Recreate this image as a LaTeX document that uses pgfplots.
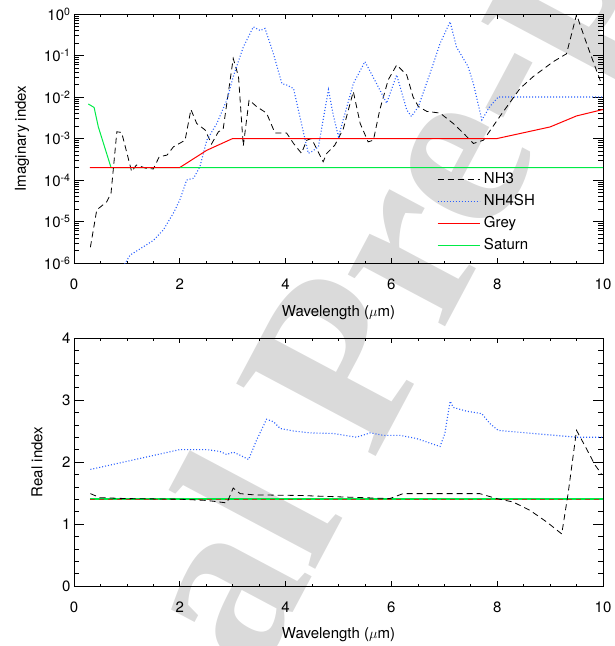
\documentclass[border=0pt]{standalone}
\usepackage{fontspec}
\setmainfont{TeX Gyre Heros}
\newfontfamily\wmfont{Liberation Serif}
\usepackage{pgfplots}
\pgfplotsset{compat=1.18}
\definecolor{nhblue}{RGB}{40,95,255}
\definecolor{satgreen}{RGB}{0,235,70}
\definecolor{greyred}{RGB}{255,0,0}
\definecolor{brown2}{RGB}{170,70,35}
\definecolor{wmgray}{RGB}{218,218,218}
\pgfplotsset{
  myaxis/.style={
    scale only axis, width=529pt,
    font=\fontsize{15}{18}\selectfont,
    /pgf/number format/assume math mode=true,
    xmin=0, xmax=10, xtick={0,2,4,6,8,10}, minor x tick num=3,
    tick align=inside,
    axis line style={line width=0.9pt},
    every tick/.style={black, line width=0.6pt},
    major tick length=10.5pt, minor tick length=5.5pt,
    major x tick style={/pgfplots/major tick length=5pt},
    minor x tick style={/pgfplots/minor tick length=2.5pt},
    xticklabel style={yshift=-12pt},
    xlabel={Wavelength ($\mu$m)},
    clip=true,
  },
}
\begin{document}
\begin{tikzpicture}
\useasboundingbox (-74pt,-383pt) rectangle (540pt,263pt);
\node[rotate=62, text=wmgray, font=\wmfont\bfseries\fontsize{240}{240}\selectfont, inner sep=0pt] at (278pt,-113pt) {Journal Pre-proof};

\begin{axis}[myaxis,
  at={(0pt,0pt)}, anchor=south west, height=249pt,
  ymode=log, ymin=1e-6, ymax=1,
  ytick={1e-6,1e-5,1e-4,1e-3,1e-2,1e-1,1},
  yticklabels={10\textsuperscript{-6},10\textsuperscript{-5},10\textsuperscript{-4},10\textsuperscript{-3},10\textsuperscript{-2},10\textsuperscript{-1},10\textsuperscript{0}},
  ylabel={Imaginary index},
  xlabel style={at={(axis description cs:0.5,-0.2)}, anchor=center},
  ylabel style={at={(axis description cs:-0.098,0.5)}, anchor=center},
  legend style={draw=none, fill=none, at={(axis description cs:0.686,0.38)}, anchor=north west,
    inner xsep=0pt, inner ysep=0pt, nodes={inner sep=3.8pt, text height=11pt, text depth=3.5pt}},
  legend cell align=left,
  legend image code/.code={\draw[#1, line width=1.1pt] (0pt,0pt) -- (42pt,0pt);},
]
\addplot[color=black, line width=0.8pt, dash pattern=on 6pt off 4pt] coordinates {
(0.31,2.4e-6)(0.43,1.9e-5)(0.62,3.0e-5)(0.70,4.8e-5)(0.81,1.45e-3)(0.90,1.4e-3)
(1.09,1.6e-4)(1.18,2.3e-4)(1.37,1.9e-4)(1.50,1.85e-4)(1.61,3.6e-4)(1.76,4.0e-4)
(1.88,6.3e-4)(2.10,9.1e-4)(2.21,5.0e-3)(2.32,2.3e-3)(2.48,1.6e-3)(2.60,7.4e-4)
(2.73,1.45e-3)(2.82,1.7e-3)(3.01,8.5e-2)(3.11,3.1e-2)(3.20,6.6e-4)(3.31,8.5e-3)
(3.45,5.9e-3)(3.64,4.1e-3)(3.80,1.35e-3)(4.02,1.35e-3)(4.15,7.6e-4)(4.30,4.4e-4)
(4.40,9.1e-4)(4.49,1.0e-3)(4.71,2.75e-4)(4.78,4.4e-4)(4.93,6.9e-4)(5.09,1.7e-3)
(5.28,1.35e-2)(5.41,2.3e-3)(5.56,8.3e-4)(5.66,9.1e-4)(5.78,4.9e-3)(5.94,2.6e-2)
(6.10,5.9e-2)(6.29,3.4e-2)(6.41,1.0e-2)(6.51,5.9e-3)(6.67,4.5e-3)(6.92,4.1e-3)
(7.17,2.3e-3)(7.36,1.35e-3)(7.55,7.6e-4)(7.74,9.1e-4)(8.05,3.4e-3)(8.43,1.6e-2)
(8.68,3.1e-2)(9.06,7.1e-2)(9.31,0.11)(9.50,0.97)(9.69,0.195)(9.85,5.4e-2)(9.97,2.1e-2)
};
\addlegendentry{NH3}
\addplot[color=nhblue, line width=1.1pt, dash pattern=on 1pt off 2pt] coordinates {
(0.90,7e-7)(1.06,1.55e-6)(1.25,2.2e-6)(1.50,3.5e-6)(1.69,6.3e-6)(1.88,1.6e-5)
(2.00,3.3e-5)(2.13,1.0e-4)(2.26,1.1e-4)(2.38,2.1e-4)(2.51,9.1e-4)(2.70,2.3e-3)
(2.89,8.5e-3)(3.01,3.1e-2)(3.20,0.16)(3.39,0.49)(3.52,0.40)(3.61,0.45)(3.77,0.11)
(3.93,2.1e-2)(4.02,1.95e-2)(4.15,1.6e-2)(4.34,1.35e-3)(4.43,4.4e-4)(4.49,4.8e-4)
(4.62,6.3e-4)(4.81,1.5e-2)(4.90,3.7e-3)(5.00,1.1e-3)(5.28,2.1e-2)(5.50,7.1e-2)
(5.72,2.1e-2)(5.91,7.1e-3)(6.10,3.4e-2)(6.29,4.9e-3)(6.38,3.4e-3)(6.51,5.9e-3)
(6.73,3.7e-2)(6.92,0.195)(7.11,0.65)(7.23,0.16)(7.45,5.4e-2)(7.55,2.1e-2)
(7.71,2.8e-3)(7.86,5.9e-3)(8.02,1.0e-2)(10.0,1.0e-2)
};
\addlegendentry{NH4SH}
\addplot[color=greyred, line width=1pt] coordinates {
(0.30,2e-4)(2.00,2e-4)(2.51,5.2e-4)(3.00,1e-3)(8.00,1e-3)(9.00,1.9e-3)(9.50,3.5e-3)(10.0,5.0e-3)
};
\addlegendentry{Grey}
\addplot[color=satgreen, line width=1pt] coordinates {
(0.27,6.8e-3)(0.38,5.6e-3)(0.46,1.9e-3)(0.70,2e-4)(10.0,2e-4)
};
\addlegendentry{Saturn}
\addplot[color=greyred, line width=1pt, forget plot] coordinates {(0.30,2e-4)(2.00,2e-4)};
\end{axis}

\begin{axis}[myaxis,
  at={(0pt,-323pt)}, anchor=south west, height=248pt,
  ymin=0, ymax=4, ytick={0,1,2,3,4}, minor y tick num=4,
  ylabel={Real index},
  xlabel style={at={(axis description cs:0.5,-0.195)}, anchor=center},
  ylabel style={at={(axis description cs:-0.070,0.5)}, anchor=center},
]
\addplot[color=satgreen, line width=1.6pt] coordinates {(0.30,1.40)(10.0,1.40)};
\addplot[color=brown2, line width=1pt, dash pattern=on 5pt off 4pt] coordinates {(0.30,1.40)(10.0,1.40)};
\addplot[color=nhblue, line width=1.1pt, dash pattern=on 1pt off 2pt] coordinates {
(0.31,1.88)(2.00,2.20)(2.51,2.20)(2.76,2.17)(2.89,2.12)(3.01,2.16)(3.14,2.11)(3.30,2.04)
(3.45,2.35)(3.64,2.69)(3.77,2.65)(3.90,2.54)(4.15,2.50)(4.46,2.47)(4.90,2.46)(5.34,2.40)
(5.60,2.47)(5.85,2.43)(6.16,2.43)(6.47,2.38)(6.92,2.25)(7.01,2.46)(7.11,2.98)(7.17,2.88)
(7.42,2.82)(7.71,2.78)(7.86,2.62)(8.02,2.51)(8.68,2.46)(9.50,2.40)(10.0,2.40)
};
\addplot[color=black, line width=0.8pt, dash pattern=on 6pt off 4pt] coordinates {
(0.31,1.49)(0.49,1.425)(1.00,1.41)(2.00,1.40)(2.51,1.38)(2.89,1.34)(3.01,1.58)(3.14,1.49)
(3.40,1.47)(4.27,1.46)(5.97,1.41)(6.22,1.49)(7.67,1.49)(7.99,1.41)(8.30,1.355)(8.62,1.22)
(8.94,1.03)(9.22,0.84)(9.34,1.49)(9.50,2.51)(9.69,2.21)(9.85,1.95)(9.97,1.81)
};
\end{axis}
\end{tikzpicture}
\end{document}
